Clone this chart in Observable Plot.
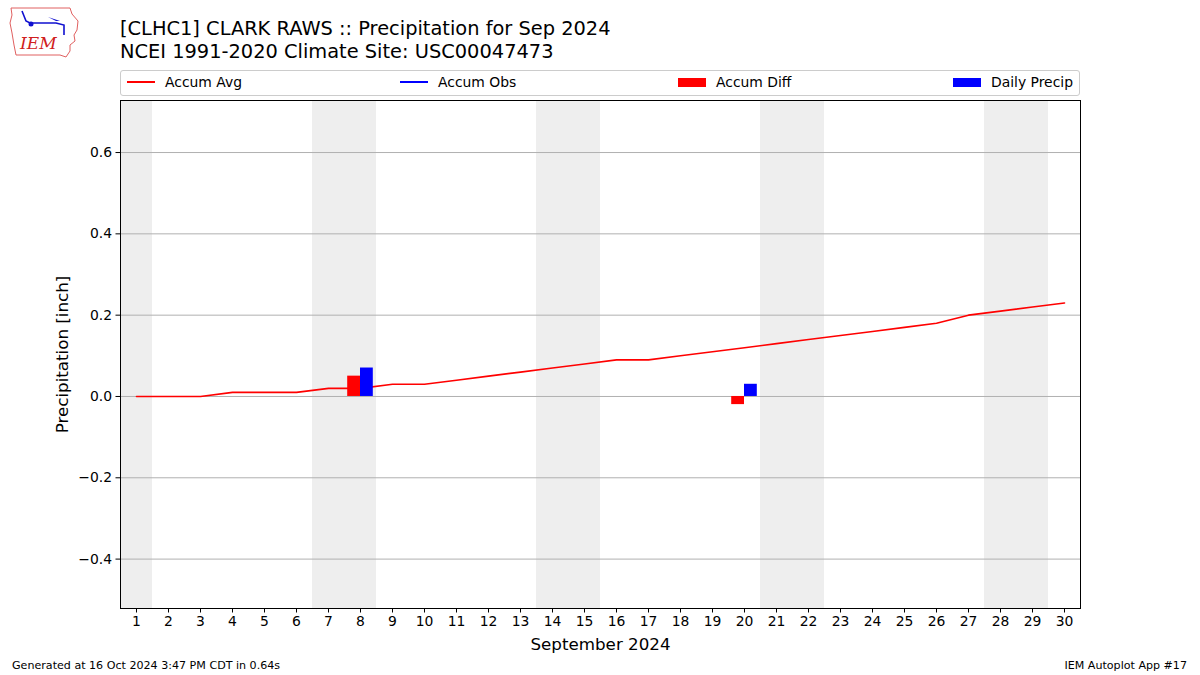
<!DOCTYPE html>
<html>
<head>
<meta charset="utf-8">
<script src="https://cdn.jsdelivr.net/npm/d3@7"></script>
<script src="https://cdn.jsdelivr.net/npm/@observablehq/plot@0.6"></script>
<style>
  html, body { margin: 0; padding: 0; background: #fff; }
  body { width: 1200px; height: 675px; position: relative; overflow: hidden; font-family: "DejaVu Sans", sans-serif; color: #000; }
  #chart { position: absolute; left: 0; top: 0; }
  .title { position: absolute; left: 120px; top: 18px; font-size: 19.4px; line-height: 22.5px; white-space: nowrap; }
  .legend { position: absolute; left: 120px; top: 70px; width: 958px; height: 24px; border: 1px solid #cccccc; border-radius: 3px; font-size: 13.9px; }
  .legend .item { position: absolute; top: -1px; height: 24px; display: flex; align-items: center; white-space: nowrap; }
  .legend .sw-line { width: 28px; height: 2px; margin-right: 10px; }
  .legend .sw-patch { width: 28px; height: 9px; margin-right: 10px; }
  .footer { position: absolute; top: 659px; font-size: 11.1px; white-space: nowrap; }
  #logo { position: absolute; left: 8px; top: 5px; }
</style>
</head>
<body>
<svg id="logo" width="72" height="54" viewBox="0 0 72 54">
  <path d="M3,3 L62,3 L64,9 L70,16 L69,25 L66,30 L67,36 L62,40 L62,46 L58,52 L52,50 L8,50 L6,40 L4,28 L2,18 L4,10 Z" fill="none" stroke="#e06060" stroke-width="1"/>
  <path d="M14,6 L18,16 L22,18 L48,18 L56,20 L56,30" fill="none" stroke="#1010d0" stroke-width="1.6"/>
  <circle cx="23" cy="19" r="2.5" fill="#1010d0"/>
  <path d="M40,12 L48,16 L52,16 Z" fill="#1010d0"/>
  <text x="12" y="44" font-family="DejaVu Serif, serif" font-style="italic" font-size="17" fill="#d02020">IEM</text>
</svg>
<div class="title">[CLHC1] CLARK RAWS :: Precipitation for Sep 2024<br>NCEI 1991-2020 Climate Site: USC00047473</div>
<div class="legend">
  <div class="item" style="left:6px"><span class="sw-line" style="background:#ff0000"></span>Accum Avg</div>
  <div class="item" style="left:279px"><span class="sw-line" style="background:#0000ff"></span>Accum Obs</div>
  <div class="item" style="left:557px"><span class="sw-patch" style="background:#ff0000"></span>Accum Diff</div>
  <div class="item" style="left:832px"><span class="sw-patch" style="background:#0000ff"></span>Daily Precip</div>
</div>
<div id="chart"></div>
<div class="footer" style="left:12px">Generated at 16 Oct 2024 3:47 PM CDT in 0.64s</div>
<div class="footer" style="right:13px">IEM Autoplot App #17</div>
<script>
// Data
const days = d3.range(1, 31);
const accumAvg = [0.00, 0.00, 0.00, 0.01, 0.01, 0.01, 0.02, 0.02, 0.03, 0.03,
                  0.04, 0.05, 0.06, 0.07, 0.08, 0.09, 0.09, 0.10, 0.11, 0.12,
                  0.13, 0.14, 0.15, 0.16, 0.17, 0.18, 0.20, 0.21, 0.22, 0.23];
const precipDays = [8, 20];
const dailyPrecip = [0.07, 0.03];
const accumDiff = [0.05, -0.02];
const weekendStart = [0.5, 6.5, 13.5, 20.5, 27.5];
const weekendEnd = [1.5, 8.5, 15.5, 22.5, 29.5];
const yTicks = [-0.4, -0.2, 0.0, 0.2, 0.4, 0.6];

const avgData = days.map((d, i) => ({day: d, value: accumAvg[i]}));
const barData = precipDays.map((d, i) => ({day: d, precip: dailyPrecip[i], diff: accumDiff[i]}));
const weekends = weekendStart.map((s, i) => ({x1: s, x2: weekendEnd[i]}));

const chart = Plot.plot({
  width: 1200,
  height: 675,
  marginLeft: 120,
  marginRight: 120,
  marginTop: 100,
  marginBottom: 67,
  style: {fontFamily: "DejaVu Sans, sans-serif", fontSize: "13.9px", color: "#000", background: "transparent"},
  x: {domain: [0.5, 30.5], ticks: days, tickFormat: d => String(d), label: null},
  y: {domain: [-0.5215, 0.728], ticks: yTicks, tickFormat: d3.format(".1f"), label: null},
  marks: [
    Plot.rect(weekends, {x1: "x1", x2: "x2", fill: "#eeeeee"}),
    Plot.ruleY(yTicks, {stroke: "#b0b0b0", strokeWidth: 1}),
    Plot.line(avgData, {x: "day", y: "value", stroke: "#ff0000", strokeWidth: 1.6}),
    Plot.rect(barData, {x1: d => d.day - 0.4, x2: "day", y1: 0, y2: "diff", fill: "#ff0000"}),
    Plot.rect(barData, {x1: "day", x2: d => d.day + 0.4, y1: 0, y2: "precip", fill: "#0000ff"}),
    Plot.frame({stroke: "#000", strokeWidth: 1}),
    Plot.axisX({ticks: days, tickFormat: d => String(d), tickSize: 4.5, tickPadding: 3, fontSize: 13.9, label: null}),
    Plot.axisY({ticks: yTicks, tickFormat: d3.format(".1f"), tickSize: 4.5, tickPadding: 4, fontSize: 13.9, label: null}),
    Plot.text(["September 2024"], {frameAnchor: "bottom", dy: 41, fontSize: 16.7, textAnchor: "middle"}),
    Plot.text(["Precipitation [inch]"], {frameAnchor: "left", dx: -58, rotate: -90, fontSize: 16.7, textAnchor: "middle"})
  ]
});
document.getElementById("chart").appendChild(chart);
</script>
</body>
</html>
